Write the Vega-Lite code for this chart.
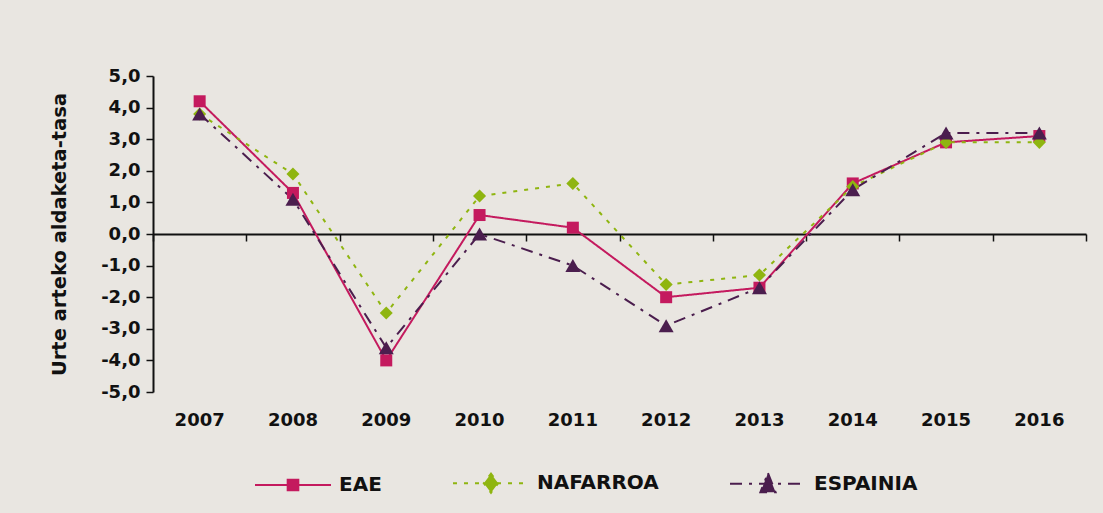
{
  "$schema": "https://vega.github.io/schema/vega-lite/v6.json",
  "width": 933,
  "height": 316,
  "autosize": {"type": "none"},
  "padding": {"left": 153, "top": 76, "right": 17, "bottom": 121},
  "background": "#E9E6E1",
  "config": {
    "view": {"stroke": null},
    "font": "DejaVu Sans",
    "axis": {"grid": false}
  },
  "data": {
    "values": [
      {"year": "2007", "series": "EAE", "value": 4.2},
      {"year": "2008", "series": "EAE", "value": 1.3},
      {"year": "2009", "series": "EAE", "value": -4.0},
      {"year": "2010", "series": "EAE", "value": 0.6},
      {"year": "2011", "series": "EAE", "value": 0.2},
      {"year": "2012", "series": "EAE", "value": -2.0},
      {"year": "2013", "series": "EAE", "value": -1.7},
      {"year": "2014", "series": "EAE", "value": 1.6},
      {"year": "2015", "series": "EAE", "value": 2.9},
      {"year": "2016", "series": "EAE", "value": 3.1},
      {"year": "2007", "series": "NAFARROA", "value": 3.8},
      {"year": "2008", "series": "NAFARROA", "value": 1.9},
      {"year": "2009", "series": "NAFARROA", "value": -2.5},
      {"year": "2010", "series": "NAFARROA", "value": 1.2},
      {"year": "2011", "series": "NAFARROA", "value": 1.6},
      {"year": "2012", "series": "NAFARROA", "value": -1.6},
      {"year": "2013", "series": "NAFARROA", "value": -1.3},
      {"year": "2014", "series": "NAFARROA", "value": 1.5},
      {"year": "2015", "series": "NAFARROA", "value": 2.9},
      {"year": "2016", "series": "NAFARROA", "value": 2.9},
      {"year": "2007", "series": "ESPAINIA", "value": 3.8},
      {"year": "2008", "series": "ESPAINIA", "value": 1.1},
      {"year": "2009", "series": "ESPAINIA", "value": -3.6},
      {"year": "2010", "series": "ESPAINIA", "value": 0.0},
      {"year": "2011", "series": "ESPAINIA", "value": -1.0},
      {"year": "2012", "series": "ESPAINIA", "value": -2.9},
      {"year": "2013", "series": "ESPAINIA", "value": -1.7},
      {"year": "2014", "series": "ESPAINIA", "value": 1.4},
      {"year": "2015", "series": "ESPAINIA", "value": 3.2},
      {"year": "2016", "series": "ESPAINIA", "value": 3.2}
    ]
  },
  "encoding": {
    "y": {
      "field": "value",
      "type": "quantitative",
      "scale": {"domain": [-5, 5], "nice": false, "zero": false},
      "axis": {
        "values": [-5, -4, -3, -2, -1, 0, 1, 2, 3, 4, 5],
        "labelExpr": "(datum.value < 0 ? '-' : '') + replace(format(abs(datum.value), '.1f'), '.', ',')",
        "domainColor": "#111111",
        "domainWidth": 2,
        "tickColor": "#111111",
        "tickWidth": 1.5,
        "tickSize": 7,
        "labelPadding": 6,
        "labelFontSize": 18,
        "labelFontWeight": "bold",
        "labelColor": "#111111",
        "title": "Urte arteko aldaketa-tasa",
        "titleFontSize": 19.5,
        "titleFontWeight": "bold",
        "titleColor": "#111111",
        "titlePadding": 31
      }
    },
    "color": {
      "field": "series",
      "type": "nominal",
      "title": null,
      "scale": {
        "domain": ["EAE", "NAFARROA", "ESPAINIA"],
        "range": ["#C41A5E", "#8FB510", "#4B1E4E"]
      },
      "legend": {
        "orient": "none",
        "legendX": 101,
        "legendY": 368,
        "direction": "horizontal",
        "title": null,
        "padding": 0,
        "columnPadding": 67,
        "symbolSize": 5776,
        "symbolStrokeWidth": 2,
        "labelOffset": 7,
        "labelFontSize": 20,
        "labelFontWeight": "bold",
        "labelColor": "#111111",
        "encode": {
          "symbols": {
            "update": {
              "shape": {"signal": "datum.value === 'EAE' ? 'M-1,0H1M-0.14,-0.14H0.14V0.14H-0.14Z' : datum.value === 'NAFARROA' ? 'M-1,0H1M0,-0.25L0.19,0L0,0.25L-0.19,0Z' : 'M-1,0H1M0,-0.28L0.2,0.22L-0.2,0.22Z'"},
              "fill": {"signal": "scale('color', datum.value)"},
              "stroke": {"signal": "scale('color', datum.value)"},
              "strokeDash": {"signal": "datum.value === 'EAE' ? [1, 0] : datum.value === 'NAFARROA' ? [4, 8] : [13, 8, 3, 8]"},
              "strokeWidth": {"value": 2},
              "size": {"value": 5776},
              "opacity": {"value": 1}
            }
          }
        }
      }
    }
  },
  "layer": [
    {
      "mark": {"type": "line", "strokeWidth": 2},
      "encoding": {
        "x": {
          "field": "year",
          "type": "ordinal",
          "scale": {"type": "band", "paddingInner": 0, "paddingOuter": 0},
          "axis": {
            "orient": "bottom",
            "offset": -158,
            "labels": false,
            "title": null,
            "domainColor": "#111111",
            "domainWidth": 2,
            "tickColor": "#111111",
            "tickWidth": 1.5,
            "tickSize": 7,
            "tickBand": "extent"
          }
        },
        "strokeDash": {
          "field": "series",
          "type": "nominal",
          "scale": {
            "domain": ["EAE", "NAFARROA", "ESPAINIA"],
            "range": [[1, 0], [4, 7], [12, 7, 3, 7]]
          },
          "legend": null
        }
      }
    },
    {
      "transform": [{"filter": "datum.series === 'EAE'"}],
      "mark": {"type": "point", "filled": true, "opacity": 1, "size": 225, "shape": "M-0.8,-0.8H0.8V0.8H-0.8Z"},
      "encoding": {
        "x": {
          "field": "year",
          "type": "ordinal",
          "axis": {
            "orient": "bottom",
            "domain": false,
            "ticks": false,
            "labelAngle": 0,
            "labelPadding": 19,
            "labelFontSize": 18,
            "labelFontWeight": "bold",
            "labelColor": "#111111",
            "title": null
          }
        }
      }
    },
    {
      "transform": [{"filter": "datum.series === 'NAFARROA'"}],
      "mark": {"type": "point", "filled": true, "opacity": 1, "size": 225, "shape": "M0,-0.87L0.87,0L0,0.87L-0.87,0Z"},
      "encoding": {
        "x": {"field": "year", "type": "ordinal", "axis": null}
      }
    },
    {
      "transform": [{"filter": "datum.series === 'ESPAINIA'"}],
      "mark": {"type": "point", "filled": true, "opacity": 1, "size": 225, "shape": "triangle-up"},
      "encoding": {
        "x": {"field": "year", "type": "ordinal", "axis": null}
      }
    }
  ],
  "resolve": {"axis": {"x": "independent"}}
}
